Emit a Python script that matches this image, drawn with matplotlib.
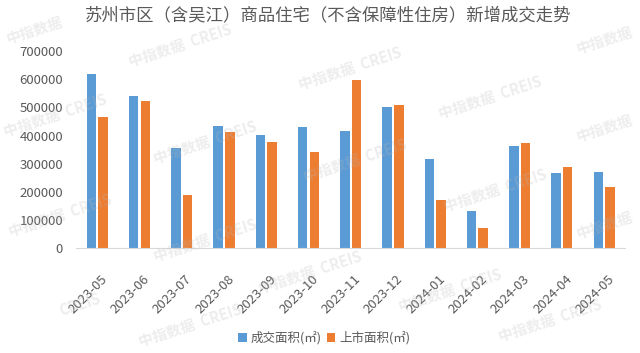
import matplotlib
matplotlib.use('Agg')
import matplotlib.pyplot as plt
import matplotlib.transforms as mtransforms
import numpy as np

plt.rcParams['font.family'] = ['Noto Sans CJK SC', 'DejaVu Sans']

# 数据
months = ['2023-05', '2023-06', '2023-07', '2023-08', '2023-09', '2023-10', '2023-11',
          '2023-12', '2024-01', '2024-02', '2024-03', '2024-04', '2024-05']
deal_area = [620000, 540000, 355000, 434000, 401000, 430000, 417000,
             500000, 316000, 132000, 364000, 266000, 271000]
supply_area = [467000, 523000, 189000, 411000, 378000, 341000, 597000,
               507000, 171000, 73000, 374000, 288000, 218000]
yticks = [0, 100000, 200000, 300000, 400000, 500000, 600000, 700000]

title = '苏州市区（含吴江）商品住宅（不含保障性住房）新增成交走势'
blue = '#5B9BD5'
orange = '#ED7D31'
text_gray = '#595959'

fig = plt.figure(figsize=(6.4, 3.53), dpi=100)
ax = fig.add_axes([0.119, 0.2966, 0.858, 0.559])

x = np.arange(len(months))
w = 0.225
ax.bar(x - 0.1375, deal_area, w, color=blue, label='成交面积(㎡)')
ax.bar(x + 0.1375, supply_area, w, color=orange, label='上市面积(㎡)')

ax.set_xlim(-0.5, len(months) - 0.5)
ax.set_ylim(0, 700000)
ax.set_yticks(yticks)
ax.set_yticklabels([str(v) for v in yticks])
ax.set_xticks(x)
ax.set_xticklabels(months, rotation=45, ha='right', va='center', rotation_mode='anchor')

for s in ['top', 'right', 'left']:
    ax.spines[s].set_visible(False)
ax.spines['bottom'].set_color('#D9D9D9')
ax.tick_params(axis='both', length=0, labelsize=9.5, labelcolor=text_gray)
ax.tick_params(axis='y', pad=9.5)
ax.tick_params(axis='x', pad=21)

# x标签稍微右移
offset = mtransforms.ScaledTranslation(8 / 100, 0, fig.dpi_scale_trans)
for lbl in ax.get_xticklabels():
    lbl.set_transform(lbl.get_transform() + offset)

fig.text(328 / 640, 1 - 15 / 353, title, ha='center', va='center',
         fontsize=12.5, color=text_gray)

fig.legend(loc='center', bbox_to_anchor=(324 / 640, 1 - 338 / 353), ncol=2,
           frameon=False, fontsize=9, handlelength=0.7, handleheight=0.7,
           handletextpad=0.3, columnspacing=0.4, labelcolor=text_gray)

# 水印（边缘处只保留可见部分）
wm_full = [(180, 45), (350, 68), (490, 97), (55, 115), (205, 142), (355, 160),
           (495, 190), (60, 215), (205, 240), (310, 272), (450, 290),
           (190, 325), (550, 320)]
wm_short = [(35, 30), (605, 40), (605, 128), (605, 225)]
wm_tail = [(80, 305)]
wm_style = dict(ha='center', va='center', rotation=18, fontsize=10.5,
                fontweight='bold', color='#b8b8b8', alpha=0.25, zorder=10)
for px, py in wm_full:
    fig.text(px / 640, 1 - py / 353, '中指数据  CREIS', **wm_style)
for px, py in wm_short:
    fig.text(px / 640, 1 - py / 353, '中指数据', **wm_style)
for px, py in wm_tail:
    fig.text(px / 640, 1 - py / 353, 'CREIS', **wm_style)

fig.savefig('out.png', dpi=100)
